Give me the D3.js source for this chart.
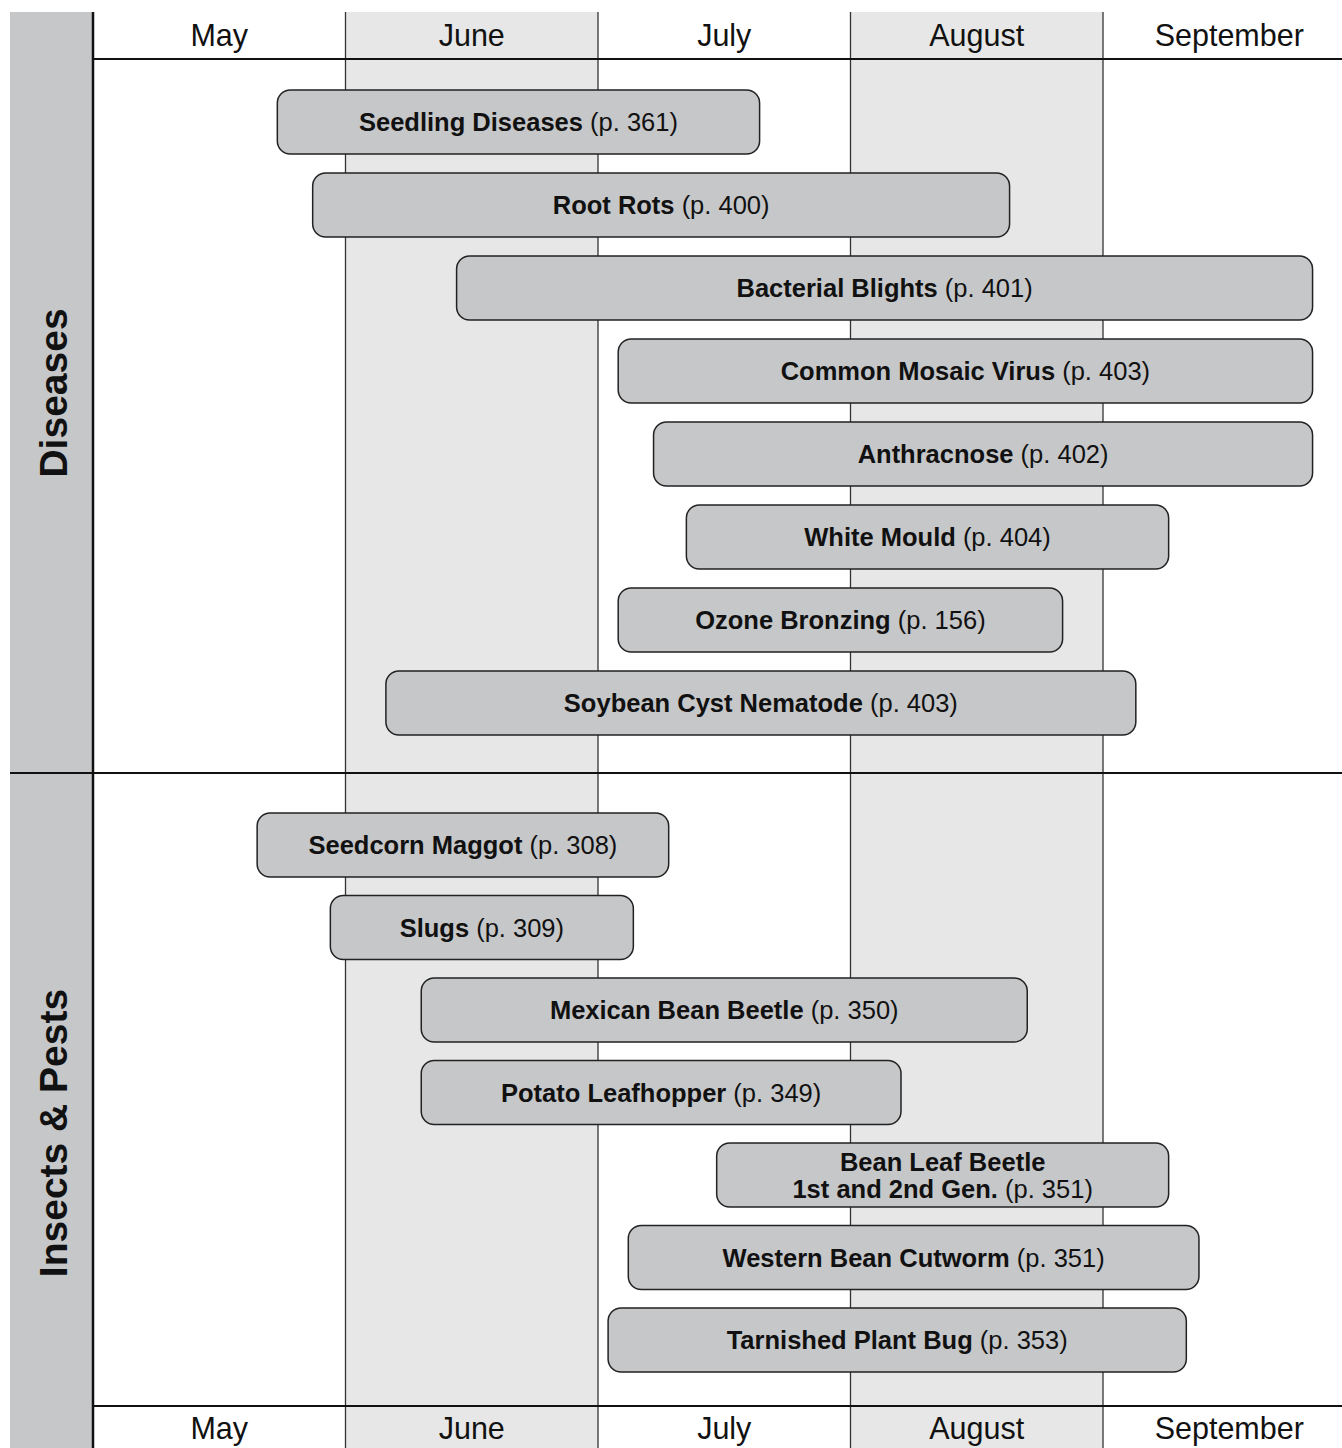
<!DOCTYPE html>
<meta charset="utf-8">
<style>
body { margin:0; background:#fff; }
svg text { font-family: "Liberation Sans", Arial, sans-serif; fill:#111; }
.month { font-size:30.5px; }
.lbl { font-size:25.5px; }
.lbl .b { font-weight:bold; }
.sect { font-size:39px; font-weight:bold; }
</style>
<body>
<svg width="1342" height="1448" id="vis"></svg>
</body>
<script src="https://cdn.jsdelivr.net/npm/d3@7"></script>
<script>
// months shown along the top and bottom
var months = ["May", "June", "July", "August", "September"];

// disease bars: name, page, start and end in months since 1 May
var diseaseNames = ["Seedling Diseases", "Root Rots", "Bacterial Blights", "Common Mosaic Virus",
  "Anthracnose", "White Mould", "Ozone Bronzing", "Soybean Cyst Nematode"];
var diseasePages = ["361", "400", "401", "403", "402", "404", "156", "403"];
var diseaseStart = [0.73, 0.87, 1.44, 2.08, 2.22, 2.35, 2.08, 1.16];
var diseaseEnd   = [2.64, 3.63, 4.83, 4.83, 4.83, 4.26, 3.84, 4.13];

// insect bars
var insectNames = ["Seedcorn Maggot", "Slugs", "Mexican Bean Beetle", "Potato Leafhopper",
  "Bean Leaf Beetle|1st and 2nd Gen.", "Western Bean Cutworm", "Tarnished Plant Bug"];
var insectPages = ["308", "309", "350", "349", "351", "351", "353"];
var insectStart = [0.65, 0.94, 1.30, 1.30, 2.47, 2.12, 2.04];
var insectEnd   = [2.28, 2.14, 3.70, 3.20, 4.26, 4.38, 4.33];

var svg = d3.select("svg"),
    W = +svg.attr("width"), H = +svg.attr("height");

var leftX = 93, topY = 12, headBottom = 59, divY = 773, footTop = 1406;
var monthW = 252.5;

var x = d3.scaleLinear().domain([0, months.length]).range([leftX, leftX + monthW * months.length]);
var xm = d3.scaleBand().domain(months).range([x(0), x(months.length)]);

var yD = d3.scaleBand().domain(diseaseNames).range([80.5, 744.5]).paddingInner(19/83).paddingOuter(19/166);
var yI = d3.scaleBand().domain(insectNames).range([803.75, 1381.25]).paddingInner(18.5/82.5).paddingOuter(18.5/165);

// shaded month columns
svg.selectAll("rect.shade").data(months.filter(function(d, i){ return i % 2 == 1; }))
  .enter().append("rect")
  .attr("class", "shade")
  .attr("x", function(d){ return xm(d); })
  .attr("y", topY)
  .attr("width", xm.bandwidth())
  .attr("height", H - topY)
  .attr("fill", "#e6e7e6");

// left gray band
svg.append("rect").attr("x", 10).attr("y", topY).attr("width", leftX - 10).attr("height", H - topY).attr("fill", "#c6c7c9");

// month separators
svg.selectAll("line.sep").data(d3.range(1, months.length))
  .enter().append("line")
  .attr("x1", function(d){ return x(d); }).attr("x2", function(d){ return x(d); })
  .attr("y1", topY).attr("y2", H)
  .attr("stroke", "#333").attr("stroke-width", 1.3);

// main frame lines
svg.append("line").attr("x1", leftX).attr("x2", leftX).attr("y1", topY).attr("y2", H).attr("stroke", "#111").attr("stroke-width", 2.5);
svg.append("line").attr("x1", leftX).attr("x2", W).attr("y1", headBottom).attr("y2", headBottom).attr("stroke", "#111").attr("stroke-width", 2);
svg.append("line").attr("x1", 10).attr("x2", W).attr("y1", divY).attr("y2", divY).attr("stroke", "#111").attr("stroke-width", 2);
svg.append("line").attr("x1", leftX).attr("x2", W).attr("y1", footTop).attr("y2", footTop).attr("stroke", "#111").attr("stroke-width", 2);

// month labels top and bottom
[46, 1439].forEach(function(yy){
  svg.selectAll(null).data(months).enter().append("text")
    .attr("class", "month")
    .attr("x", function(d){ return xm(d) + xm.bandwidth() / 2; })
    .attr("y", yy)
    .attr("text-anchor", "middle")
    .text(function(d){ return d; });
});

// section titles
svg.append("text").attr("class", "sect").attr("text-anchor", "middle")
  .attr("transform", "translate(67,393) rotate(-90)").text("Diseases");
svg.append("text").attr("class", "sect").attr("text-anchor", "middle")
  .attr("transform", "translate(67,1133) rotate(-90)").text("Insects & Pests");

function drawBars(names, pages, starts, ends, y) {
  var rows = names.map(function(n, i){
    return {name: n, page: pages[i], start: starts[i], end: ends[i]};
  });
  var g = svg.append("g");
  g.selectAll("rect").data(rows).enter().append("rect")
    .attr("x", function(d){ return x(d.start); })
    .attr("y", function(d){ return y(d.name); })
    .attr("width", function(d){ return x(d.end) - x(d.start); })
    .attr("height", y.bandwidth())
    .attr("rx", 13).attr("ry", 13)
    .attr("fill", "#c6c7c9")
    .attr("stroke", "#222").attr("stroke-width", 1.5);

  var t = g.selectAll("text").data(rows).enter().append("text")
    .attr("class", "lbl")
    .attr("text-anchor", "middle")
    .attr("x", function(d){ return (x(d.start) + x(d.end)) / 2; })
    .attr("y", function(d){ return y(d.name) + y.bandwidth() / 2 + 9; });

  t.each(function(d){
    var el = d3.select(this);
    var parts = d.name.split("|");
    var cx = (x(d.start) + x(d.end)) / 2;
    if (parts.length == 1) {
      el.append("tspan").attr("class", "b").text(parts[0]);
      el.append("tspan").text(" (p. " + d.page + ")");
    } else {
      var y0 = y(d.name) + y.bandwidth() / 2;
      el.append("tspan").attr("class", "b").attr("x", cx).attr("y", y0 - 4).text(parts[0]);
      el.append("tspan").attr("class", "b").attr("x", cx).attr("y", y0 + 23).text(parts[1]);
      el.append("tspan").text(" (p. " + d.page + ")");
    }
  });
}

drawBars(diseaseNames, diseasePages, diseaseStart, diseaseEnd, yD);
drawBars(insectNames, insectPages, insectStart, insectEnd, yI);
</script>
